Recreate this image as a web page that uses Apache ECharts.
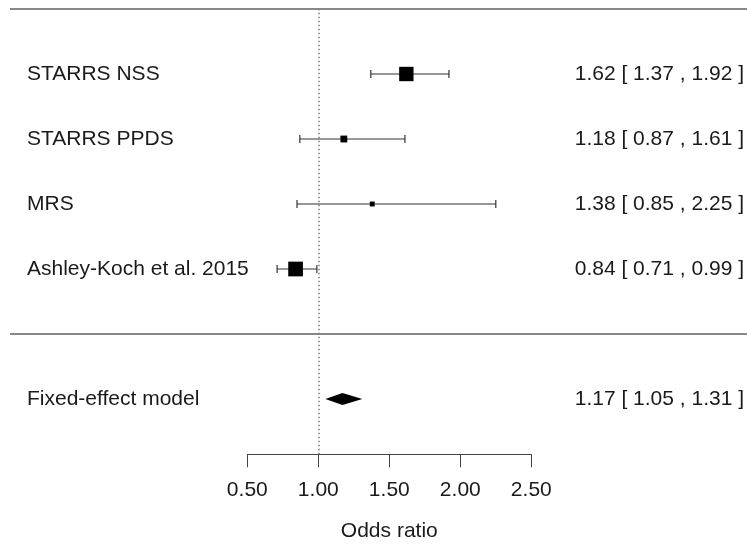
<!DOCTYPE html>
<html>
<head>
<meta charset="utf-8">
<script src="https://cdn.jsdelivr.net/npm/echarts@6/dist/echarts.min.js"></script>
<style>html,body{margin:0;padding:0;background:#fff}#c{width:747px;height:549px}</style>
</head>
<body>
<div id="c"></div>
<script>
// ---- data ----
const studies = ['STARRS NSS', 'STARRS PPDS', 'MRS', 'Ashley-Koch et al. 2015'];
const estimates = [1.62, 1.18, 1.38, 0.84];
const lowers = [1.37, 0.87, 0.85, 0.71];
const uppers = [1.92, 1.61, 2.25, 0.99];
const summaryLabel = 'Fixed-effect model';
const summaryEst = [1.17];
const summaryLower = [1.05];
const summaryUpper = [1.31];
const xTicks = [0.5, 1.0, 1.5, 2.0, 2.5];
const xTitle = 'Odds ratio';

// ---- layout / style ----
const FONT = 'Liberation Sans, Arial, Helvetica, sans-serif';
const FS = 21;
const TXT = '#1a1a1a';
const k = studies.length;
const rowOf = i => k - i + 1;          // study rows: 5,4,3,2
const summaryRow = 0;
const sepRow = 1;
const topRow = k + 2;
const yMin = -0.85, yMax = topRow;

// inverse-variance weights -> square sizes (metafor style psize 0.5..1.5)
const wts = lowers.map((l, i) => {
  const se = (Math.log(uppers[i]) - Math.log(l)) / (2 * 1.959964);
  return 1 / (se * se);
});
const wMin = Math.min(...wts), wMax = Math.max(...wts);
const psize = wts.map(w => (w - wMin) / (wMax - wMin) + 0.5);
const SQ = 9.8;

const labelMap = {};
const estMap = {};
const fmt = v => v.toFixed(2);
studies.forEach((s, i) => {
  labelMap[rowOf(i)] = s;
  estMap[rowOf(i)] = fmt(estimates[i]) + ' [ ' + fmt(lowers[i]) + ' , ' + fmt(uppers[i]) + ' ]';
});
labelMap[summaryRow] = summaryLabel;
estMap[summaryRow] = fmt(summaryEst[0]) + ' [ ' + fmt(summaryLower[0]) + ' , ' + fmt(summaryUpper[0]) + ' ]';
const labelRows = studies.map((s, i) => rowOf(i)).concat([summaryRow]);

const studyData = studies.map((s, i) => [estimates[i], rowOf(i), lowers[i], uppers[i], psize[i] * SQ]);
const summaryData = [[summaryEst[0], summaryRow, summaryLower[0], summaryUpper[0]]];

const gridTop = 9, gridBottomPx = 454.25;
const plotLeft = 247.3, plotRight = 533.3;

const chart = echarts.init(document.getElementById('c'), null, {renderer: 'canvas'});
chart.setOption({
  animation: false,
  backgroundColor: '#fff',
  grid: [
    {left: plotLeft, right: 747 - plotRight, top: gridTop, bottom: 549 - gridBottomPx, containLabel: false},
    {left: 10, right: 0, top: gridTop, bottom: 549 - gridBottomPx, containLabel: false}
  ],
  xAxis: [
    {
      gridIndex: 0, type: 'value', min: xTicks[0], max: xTicks[xTicks.length - 1], interval: 0.5,
      axisLine: {show: true, onZero: false, lineStyle: {color: '#444', width: 1}},
      axisTick: {show: true, length: 13, lineStyle: {color: '#444', width: 1}},
      axisLabel: {formatter: v => v.toFixed(2), fontFamily: FONT, fontSize: FS, color: TXT, margin: 25},
      splitLine: {show: false},
      name: xTitle, nameLocation: 'middle', nameGap: 66,
      nameTextStyle: {fontFamily: FONT, fontSize: FS, color: TXT}
    },
    {gridIndex: 1, type: 'value', min: 0, max: 1, show: false}
  ],
  yAxis: [
    {
      gridIndex: 0, type: 'value', min: yMin, max: yMax, position: 'left',
      axisLine: {show: false, onZero: false}, axisTick: {show: false}, splitLine: {show: false},
      axisLabel: {
        customValues: labelRows, formatter: v => labelMap[v] || '', align: 'left',
        margin: plotLeft - 27, fontFamily: FONT, fontSize: FS, color: TXT
      }
    },
    {
      gridIndex: 0, type: 'value', min: yMin, max: yMax, position: 'right',
      axisLine: {show: false, onZero: false}, axisTick: {show: false}, splitLine: {show: false},
      axisLabel: {
        customValues: labelRows, formatter: v => estMap[v] || '', align: 'right',
        margin: 746 - plotRight, fontFamily: FONT, fontSize: FS, color: TXT
      }
    },
    {gridIndex: 1, type: 'value', min: yMin, max: yMax, show: false}
  ],
  series: [
    {
      type: 'line', xAxisIndex: 1, yAxisIndex: 2, symbol: 'none', silent: true,
      data: [[0, topRow], [1, topRow]], lineStyle: {color: '#888', width: 2}
    },
    {
      type: 'line', xAxisIndex: 1, yAxisIndex: 2, symbol: 'none', silent: true,
      data: [[0, sepRow], [1, sepRow]], lineStyle: {color: '#888', width: 2}
    },
    {
      type: 'custom', xAxisIndex: 0, yAxisIndex: 0,
      encode: {x: [0, 2, 3], y: 1},
      data: studyData,
      renderItem: (params, api) => {
        const row = api.value(1);
        const pE = api.coord([api.value(0), row]);
        const pL = api.coord([api.value(2), row]);
        const pH = api.coord([api.value(3), row]);
        const s = api.value(4);
        const ls = {stroke: '#333', lineWidth: 1.2};
        return {
          type: 'group',
          children: [
            {type: 'line', shape: {x1: pL[0], y1: pL[1], x2: pH[0], y2: pH[1]}, style: ls},
            {type: 'line', shape: {x1: pL[0], y1: pL[1] - 4, x2: pL[0], y2: pL[1] + 4}, style: ls},
            {type: 'line', shape: {x1: pH[0], y1: pH[1] - 4, x2: pH[0], y2: pH[1] + 4}, style: ls},
            {type: 'rect', shape: {x: pE[0] - s / 2, y: pE[1] - s / 2, width: s, height: s}, style: {fill: '#000'}}
          ]
        };
      },
      markLine: {
        silent: true, symbol: 'none', label: {show: false},
        lineStyle: {color: '#777', width: 1.5, type: [1.5, 2.5]},
        data: [{xAxis: 1}]
      }
    },
    {
      type: 'custom', xAxisIndex: 0, yAxisIndex: 0,
      encode: {x: [0, 2, 3], y: 1},
      data: summaryData,
      renderItem: (params, api) => {
        const row = api.value(1);
        const pE = api.coord([api.value(0), row]);
        const pL = api.coord([api.value(2), row]);
        const pH = api.coord([api.value(3), row]);
        const h = 6;
        return {
          type: 'polygon',
          shape: {points: [[pL[0], pL[1]], [pE[0], pE[1] - h], [pH[0], pH[1]], [pE[0], pE[1] + h]]},
          style: {fill: '#000'}
        };
      }
    }
  ]
});
</script>
</body>
</html>
